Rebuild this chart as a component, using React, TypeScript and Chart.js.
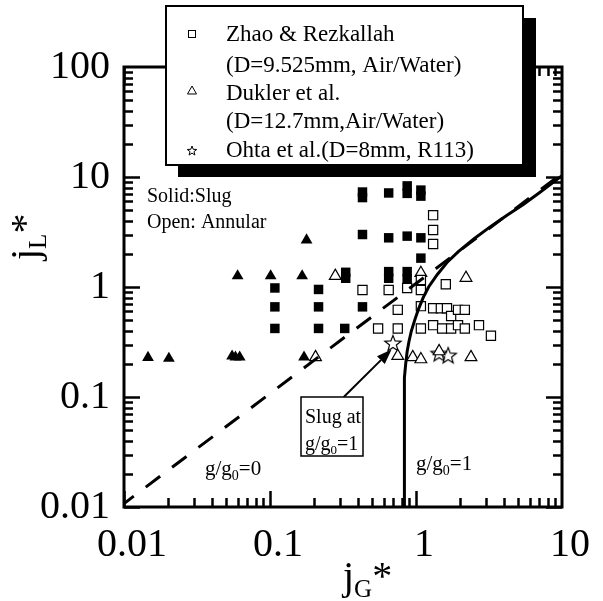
import React, { useEffect, useRef } from "react";
import { Chart, registerables } from "chart.js";

Chart.register(...registerables);

const SERIF = '"Liberation Serif", "Times New Roman", Times, serif';

// Axis ticks
const xTickValues = [0.01, 0.1, 1, 10];
const xTickLabels = ["0.01", "0.1", "1", "10"];
const yTickValues = [0.01, 0.1, 1, 10, 100];
const yTickLabels = ["0.01", "0.1", "1", "10", "100"];

// Legend labels
const legendLines = [
  "Zhao & Rezkallah",
  "(D=9.525mm, Air/Water)",
  "Dukler et al.",
  "(D=12.7mm,Air/Water)",
  "Ohta et al.(D=8mm, R113)",
];

// Zhao & Rezkallah, slug (solid squares) [jG*, jL*]
const zhaoSlug: [number, number][] = [
  [0.108, 0.98], [0.108, 0.66], [0.108, 0.42],
  [0.215, 0.95], [0.215, 0.66], [0.215, 0.42],
  [0.325, 0.42], [0.33, 1.36], [0.33, 1.2],
  [0.43, 7.3], [0.43, 6.5], [0.43, 3.0], [0.43, 0.66],
  [0.65, 7.16], [0.65, 2.8], [0.65, 1.38], [0.65, 1.2],
  [0.87, 8.3], [0.87, 7.1], [0.87, 2.9], [0.87, 1.38], [0.87, 1.18],
  [1.08, 7.6], [1.08, 6.7], [1.08, 2.8], [1.08, 1.83],
];

// Zhao & Rezkallah, annular (open squares)
const zhaoAnnular: [number, number][] = [
  [0.43, 0.94], [0.65, 0.94], [0.87, 0.98], [1.08, 0.94], [1.08, 1.16],
  [1.31, 4.5], [1.31, 3.3], [1.31, 2.46], [1.6, 1.06],
  [0.55, 0.42], [0.75, 0.62], [0.75, 0.42], [1.08, 0.67], [1.08, 0.42],
  [1.31, 0.64], [1.48, 0.64], [1.63, 0.64], [1.74, 0.545],
  [1.94, 0.62], [2.16, 0.62], [1.31, 0.45], [1.51, 0.42],
  [1.74, 0.42], [1.94, 0.45], [2.16, 0.42], [2.7, 0.45], [3.26, 0.36],
];

// Dukler et al., slug (solid triangles)
const duklerSlug: [number, number][] = [
  [0.0146, 0.228], [0.0203, 0.224], [0.055, 0.235], [0.058, 0.23], [0.062, 0.23],
  [0.171, 0.23], [0.06, 1.26], [0.101, 1.26], [0.166, 1.26], [0.178, 2.67],
];

// Dukler et al., annular (open triangles)
const duklerAnnular: [number, number][] = [
  [0.28, 1.26], [0.205, 0.23], [0.75, 0.236], [0.95, 0.23], [1.08, 0.22],
  [1.08, 1.34], [2.2, 1.21], [2.38, 0.23], [1.44, 0.26],
];

// Ohta et al. (stars)
const ohta: [number, number][] = [
  [0.695, 0.31], [1.44, 0.25], [1.66, 0.24],
];

// Transition line g/g0=0 (dashed)
const lineG0: [number, number][] = [
  [0.0093, 0.01], [9.3, 10],
];

// Transition curve g/g0=1 (solid)
const lineG1: [number, number][] = [
  [0.828, 0.01], [0.829, 0.05], [0.832, 0.1], [0.838, 0.15], [0.85, 0.2],
  [0.87, 0.26], [0.895, 0.32], [0.93, 0.4], [0.98, 0.5], [1.04, 0.63],
  [1.12, 0.8], [1.22, 1.0], [1.4, 1.3], [1.65, 1.7], [1.95, 2.1],
  [2.5, 2.75], [3.2, 3.5], [4.2, 4.5], [5.4, 5.6], [7.0, 7.2], [10, 10.3],
];

// Arrow "Slug at g/g0=1": tail and head in data units
const arrowFrom: [number, number] = [0.32, 0.1];
const arrowTo: [number, number] = [0.68, 0.27];

const toXY = (a: [number, number][]) => a.map(([x, y]) => ({ x, y }));

function starPath(ctx: CanvasRenderingContext2D, cx: number, cy: number, ro: number, ri: number) {
  ctx.beginPath();
  for (let i = 0; i < 10; i++) {
    const r = i % 2 === 0 ? ro : ri;
    const a = -Math.PI / 2 + (i * Math.PI) / 5;
    const px = cx + r * Math.cos(a);
    const py = cy + r * Math.sin(a);
    if (i === 0) ctx.moveTo(px, py);
    else ctx.lineTo(px, py);
  }
  ctx.closePath();
}

function makeStar(ro: number, ri: number, lw: number) {
  const size = Math.ceil(ro * 2 + lw * 2 + 2);
  const c = document.createElement("canvas");
  c.width = size;
  c.height = size;
  const ctx = c.getContext("2d")!;
  starPath(ctx, size / 2, size / 2 + ro * 0.1, ro, ri);
  ctx.fillStyle = "#fff";
  ctx.fill();
  ctx.lineWidth = lw;
  ctx.strokeStyle = "#000";
  ctx.stroke();
  return c;
}

type Seg = { t: string; size: number; dy?: number };
function drawSegs(ctx: CanvasRenderingContext2D, segs: Seg[], x: number, y: number) {
  let cx = x;
  for (const s of segs) {
    ctx.font = `${s.size}px ${SERIF}`;
    ctx.fillText(s.t, cx, y + (s.dy || 0));
    cx += ctx.measureText(s.t).width;
  }
}

const framePlugin = {
  id: "framePlugin",
  afterDraw(chart: any) {
    const ctx: CanvasRenderingContext2D = chart.ctx;
    const { left, right, top, bottom } = chart.chartArea;
    const xs = chart.scales.x;
    const ys = chart.scales.y;
    ctx.save();
    ctx.strokeStyle = "#000";
    ctx.fillStyle = "#000";

    // inward ticks on all four sides
    ctx.lineWidth = 2.5;
    ctx.lineCap = "butt";
    const decX = [0.01, 0.1, 1];
    for (const d of decX) {
      for (let m = 1; m <= 9; m++) {
        const v = d * m;
        const px = Math.round(xs.getPixelForValue(v)) + 0.5;
        const len = m === 1 ? 16 : 9;
        ctx.beginPath();
        ctx.moveTo(px, bottom);
        ctx.lineTo(px, bottom - len);
        ctx.moveTo(px, top);
        ctx.lineTo(px, top + len);
        ctx.stroke();
      }
    }
    const decY = [0.01, 0.1, 1, 10];
    for (const d of decY) {
      for (let m = 1; m <= 9; m++) {
        const v = d * m;
        const py = Math.round(ys.getPixelForValue(v)) + 0.5;
        const len = m === 1 ? 16 : 9;
        ctx.beginPath();
        ctx.moveTo(left, py);
        ctx.lineTo(left + len, py);
        ctx.moveTo(right, py);
        ctx.lineTo(right - len, py);
        ctx.stroke();
      }
    }
    // frame
    ctx.lineWidth = 3;
    ctx.strokeRect(left, top, right - left, bottom - top);

    // arrow
    const ax0 = xs.getPixelForValue(arrowFrom[0]);
    const ay0 = ys.getPixelForValue(arrowFrom[1]);
    const ax1 = xs.getPixelForValue(arrowTo[0]);
    const ay1 = ys.getPixelForValue(arrowTo[1]);
    const ang = Math.atan2(ay1 - ay0, ax1 - ax0);
    const hl = 15, hw = 5.5;
    const bx = ax1 - hl * Math.cos(ang);
    const by = ay1 - hl * Math.sin(ang);
    ctx.lineWidth = 2;
    ctx.beginPath();
    ctx.moveTo(ax0, ay0);
    ctx.lineTo(bx, by);
    ctx.stroke();
    ctx.beginPath();
    ctx.moveTo(ax1, ay1);
    ctx.lineTo(bx + hw * Math.sin(ang), by - hw * Math.cos(ang));
    ctx.lineTo(bx - hw * Math.sin(ang), by + hw * Math.cos(ang));
    ctx.closePath();
    ctx.fill();

    // annotation box
    ctx.fillStyle = "#fff";
    ctx.fillRect(301, 397, 62, 59);
    ctx.lineWidth = 1.5;
    ctx.strokeRect(301, 397, 62, 59);
    ctx.fillStyle = "#000";
    ctx.textAlign = "left";
    ctx.textBaseline = "alphabetic";
    drawSegs(ctx, [{ t: "Slug at", size: 20 }], 305, 423);
    drawSegs(ctx, [{ t: "g/g", size: 20 }, { t: "0", size: 13, dy: 4 }, { t: "=1", size: 20 }], 305, 450);

    // region texts
    drawSegs(ctx, [{ t: "Solid:Slug", size: 20 }], 147, 202);
    drawSegs(ctx, [{ t: "Open: Annular", size: 20 }], 147, 228);
    drawSegs(ctx, [{ t: "g/g", size: 21 }, { t: "0", size: 14, dy: 5 }, { t: "=0", size: 21 }], 205, 475);
    drawSegs(ctx, [{ t: "g/g", size: 21 }, { t: "0", size: 14, dy: 5 }, { t: "=1", size: 21 }], 416, 470);

    // axis titles
    drawSegs(ctx, [{ t: "j", size: 40 }, { t: "G", size: 25, dy: 8 }, { t: "*", size: 40 }], 343, 589);
    ctx.save();
    ctx.translate(38, 260);
    ctx.rotate(-Math.PI / 2);
    drawSegs(ctx, [{ t: "j", size: 40 }, { t: "L", size: 25, dy: 8 }, { t: "*", size: 40 }], 0, 0);
    ctx.restore();

    // legend with shadow
    ctx.fillStyle = "#000";
    ctx.fillRect(178, 18, 358, 159);
    ctx.fillStyle = "#fff";
    ctx.fillRect(166, 6, 357, 159);
    ctx.lineWidth = 2;
    ctx.strokeStyle = "#000";
    ctx.strokeRect(166, 6, 357, 159);
    // legend markers
    ctx.lineWidth = 1;
    ctx.strokeRect(188.5, 30.5, 7, 7);
    ctx.beginPath();
    ctx.moveTo(192, 86);
    ctx.lineTo(196.5, 94);
    ctx.lineTo(187.5, 94);
    ctx.closePath();
    ctx.stroke();
    starPath(ctx, 192, 151, 5, 2.1);
    ctx.stroke();
    ctx.fillStyle = "#000";
    const baselines = [41, 72, 100, 128, 157];
    legendLines.forEach((t, i) => {
      drawSegs(ctx, [{ t, size: 23 }], 226, baselines[i]);
    });
    ctx.restore();
  },
};

export default function App() {
  const ref = useRef<HTMLCanvasElement>(null);
  useEffect(() => {
    if (!ref.current) return;
    const star = makeStar(8.5, 3.6, 1.2);
    const chart = new Chart(ref.current, {
      type: "scatter",
      data: {
        datasets: [
          {
            label: "g/g0=0",
            data: toXY(lineG0),
            showLine: true,
            borderColor: "#000",
            borderWidth: 3,
            borderDash: [18, 15],
            pointRadius: 0,
            fill: false,
          },
          {
            label: "g/g0=1",
            data: toXY(lineG1),
            showLine: true,
            borderColor: "#000",
            borderWidth: 3,
            pointRadius: 0,
            tension: 0,
            fill: false,
          },
          {
            label: "Zhao slug",
            data: toXY(zhaoSlug),
            pointStyle: "rect",
            pointRadius: 6.7,
            backgroundColor: "#000",
            borderColor: "#000",
            borderWidth: 0,
          },
          {
            label: "Zhao annular",
            data: toXY(zhaoAnnular),
            pointStyle: "rect",
            pointRadius: 6.5,
            backgroundColor: "#fff",
            borderColor: "#000",
            borderWidth: 1.2,
          },
          {
            label: "Dukler slug",
            data: toXY(duklerSlug),
            pointStyle: "triangle",
            pointRadius: 6.8,
            backgroundColor: "#000",
            borderColor: "#000",
            borderWidth: 0,
          },
          {
            label: "Dukler annular",
            data: toXY(duklerAnnular),
            pointStyle: "triangle",
            pointRadius: 6.8,
            backgroundColor: "#fff",
            borderColor: "#000",
            borderWidth: 1.2,
          },
          {
            label: "Ohta",
            data: toXY(ohta),
            pointStyle: star as any,
            pointRadius: 9,
          },
        ],
      },
      options: {
        responsive: false,
        animation: false,
        devicePixelRatio: 1,
        layout: { padding: { left: 0, top: 67, right: 41, bottom: 0 } },
        plugins: { legend: { display: false }, tooltip: { enabled: false } },
        scales: {
          x: {
            type: "logarithmic",
            min: 0.01,
            max: 10,
            position: "bottom",
            grid: { display: false, drawTicks: false },
            border: { display: false },
            afterFit(s: any) {
              s.height = 94;
            },
            afterBuildTicks(s: any) {
              s.ticks = xTickValues.map((v) => ({ value: v }));
            },
            ticks: {
              callback: (_v: any, i: number) => xTickLabels[i],
              font: { size: 40, family: SERIF },
              color: "#000",
              padding: 14,
              labelOffset: 8,
              maxRotation: 0,
              autoSkip: false,
            },
          },
          y: {
            type: "logarithmic",
            min: 0.01,
            max: 100,
            grid: { display: false, drawTicks: false },
            border: { display: false },
            afterFit(s: any) {
              s.width = 124;
            },
            afterBuildTicks(s: any) {
              s.ticks = yTickValues.map((v) => ({ value: v }));
            },
            ticks: {
              callback: (_v: any, i: number) => yTickLabels[i],
              font: { size: 40, family: SERIF },
              color: "#000",
              padding: 14,
              autoSkip: false,
            },
          },
        },
      },
      plugins: [framePlugin],
    } as any);
    return () => chart.destroy();
  }, []);
  return (
    <div style={{ position: "absolute", left: 0, top: 0, width: 603, height: 601, background: "#fff" }}>
      <canvas ref={ref} width={603} height={601} style={{ display: "block" }} />
    </div>
  );
}
